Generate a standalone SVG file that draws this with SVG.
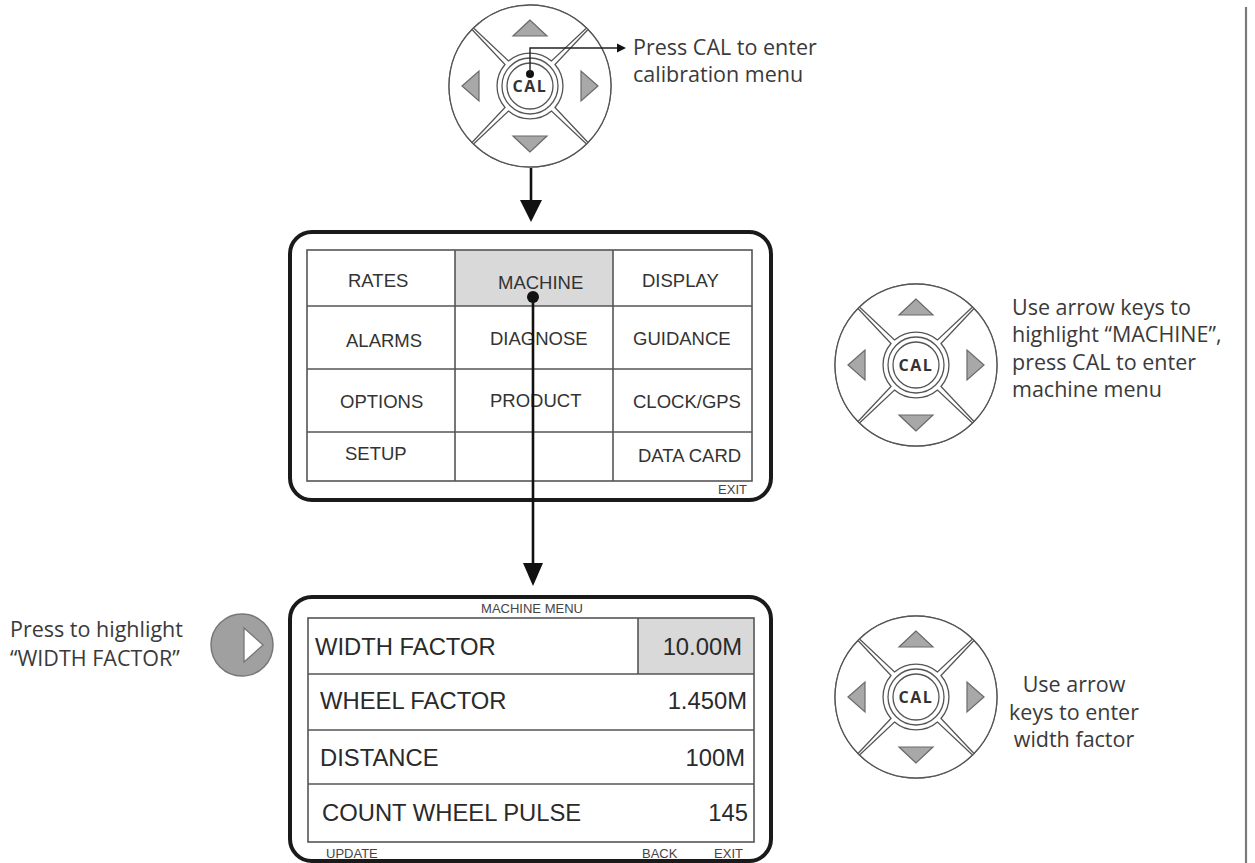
<svg xmlns="http://www.w3.org/2000/svg" width="1255" height="863" viewBox="0 0 1255 863">
<style>
.pet{fill:#fff;stroke:#555;stroke-width:1.3}
.tri{fill:#a8a8a8;stroke:#6a6a6a;stroke-width:1.2}
.cal{font-family:"Open Sans","DejaVu Sans",sans-serif;font-weight:bold;font-size:16px;fill:#333;letter-spacing:1.5px}
.note{font-family:"Open Sans","Noto Sans",sans-serif;font-size:21.5px;fill:#3a3a3a}
.scr{fill:#fff;stroke:#1a1a1a;stroke-width:4}
.grid{fill:none;stroke:#555;stroke-width:1.6}
.m1{font-family:"Liberation Sans",Arial,sans-serif;font-size:18.5px;fill:#333}
.m2{font-family:"Liberation Sans",Arial,sans-serif;font-size:23.8px;fill:#2a2a2a}
.sm{font-family:"Liberation Sans",Arial,sans-serif;font-size:13px;fill:#444}
.hl{fill:#d9d9d9}
.wire{fill:none;stroke:#111;stroke-width:2.6}
</style>
<defs>
<g id="keypad">
<circle r="81" class="pet"/>
<path id="petal" class="pet" d="M-56.5,-58 A81,81 0 0 1 56.5,-58 L21.5,-25 A33,33 0 0 0 -21.5,-25 Z"/>
<use href="#petal" transform="rotate(90)"/>
<use href="#petal" transform="rotate(180)"/>
<use href="#petal" transform="rotate(270)"/>
<circle r="28" class="pet"/>
<circle r="23" class="pet"/>
<polygon class="tri" points="0,-66 -17,-50 17,-50"/>
<polygon class="tri" points="0,66 -17,50 17,50"/>
<polygon class="tri" points="-68,0 -51,-15 -51,15"/>
<polygon class="tri" points="68,0 51,-15 51,15"/>
<text class="cal" x="0" y="6" text-anchor="middle">CAL</text>
</g>
</defs>
<rect width="1255" height="863" fill="#fff"/>
<line x1="1246" y1="7" x2="1246" y2="863" stroke="#7a7a7a" stroke-width="2.2"/>

<g id="keypad-top">
<use href="#keypad" transform="translate(530,86)"/>
<text class="note" x="633" y="55">Press CAL to enter</text>
<text class="note" x="633" y="82">calibration menu</text>
</g>

<g id="keypad-machine">
<use href="#keypad" transform="translate(916,365)"/>
<text class="note" x="1012" y="315">Use arrow keys to</text>
<text class="note" x="1012" y="342">highlight “MACHINE”,</text>
<text class="note" x="1012" y="370">press CAL to enter</text>
<text class="note" x="1012" y="397">machine menu</text>
</g>

<g id="keypad-width">
<use href="#keypad" transform="translate(916,697)"/>
<text class="note" x="1074" y="692" text-anchor="middle">Use arrow</text>
<text class="note" x="1074" y="720" text-anchor="middle">keys to enter</text>
<text class="note" x="1074" y="747" text-anchor="middle">width factor</text>
</g>

<g id="right-button">
<circle cx="242" cy="645" r="31" fill="#a0a0a0" stroke="#777" stroke-width="1.5"/>
<polygon points="244,628 244,662 263,645" fill="#fff" stroke="#777" stroke-width="1.3"/>
<text class="note" x="10" y="637">Press to highlight</text>
<text class="note" x="10" y="666">“WIDTH FACTOR”</text>
</g>

<g id="calibration-menu">
<rect class="scr" x="290" y="232" width="481" height="268" rx="22"/>
<rect class="hl" x="455" y="250" width="158" height="56"/>
<rect class="grid" x="307" y="250" width="445" height="231"/>
<line class="grid" x1="307" y1="306" x2="752" y2="306"/>
<line class="grid" x1="307" y1="369" x2="752" y2="369"/>
<line class="grid" x1="307" y1="432" x2="752" y2="432"/>
<line class="grid" x1="455" y1="250" x2="455" y2="481"/>
<line class="grid" x1="613" y1="250" x2="613" y2="481"/>
<text class="m1" x="348" y="287">RATES</text>
<text class="m1" x="498" y="289">MACHINE</text>
<text class="m1" x="642" y="287">DISPLAY</text>
<text class="m1" x="346" y="347">ALARMS</text>
<text class="m1" x="490" y="345">DIAGNOSE</text>
<text class="m1" x="633" y="345">GUIDANCE</text>
<text class="m1" x="340" y="408">OPTIONS</text>
<text class="m1" x="490" y="407">PRODUCT</text>
<text class="m1" x="633" y="408">CLOCK/GPS</text>
<text class="m1" x="345" y="460">SETUP</text>
<text class="m1" x="638" y="462">DATA CARD</text>
<text class="sm" x="747" y="494" text-anchor="end">EXIT</text>
</g>

<g id="machine-menu">
<rect class="scr" x="290" y="597" width="481" height="264" rx="22"/>
<rect class="hl" x="638" y="618" width="116" height="56"/>
<rect class="grid" x="308" y="618" width="446" height="224"/>
<line class="grid" x1="308" y1="674" x2="754" y2="674"/>
<line class="grid" x1="308" y1="730" x2="754" y2="730"/>
<line class="grid" x1="308" y1="784" x2="754" y2="784"/>
<line class="grid" x1="638" y1="618" x2="638" y2="674"/>
<text class="sm" x="532" y="613" text-anchor="middle">MACHINE MENU</text>
<text class="m2" x="315" y="655">WIDTH FACTOR</text>
<text class="m2" x="742" y="655" text-anchor="end">10.00M</text>
<text class="m2" x="320" y="709">WHEEL FACTOR</text>
<text class="m2" x="747" y="709" text-anchor="end">1.450M</text>
<text class="m2" x="320" y="766">DISTANCE</text>
<text class="m2" x="745" y="766" text-anchor="end">100M</text>
<text class="m2" x="322" y="821">COUNT WHEEL PULSE</text>
<text class="m2" x="748" y="821" text-anchor="end">145</text>
<text class="sm" x="326" y="858">UPDATE</text>
<text class="sm" x="642" y="858">BACK</text>
<text class="sm" x="743" y="858" text-anchor="end">EXIT</text>
</g>

<g id="connectors">
<circle cx="530" cy="74" r="4" fill="#111"/>
<polyline points="530,74 530,48 617,48" fill="none" stroke="#222" stroke-width="1.4"/>
<polygon points="617,43.5 626,48 617,52.5" fill="#111"/>
<line class="wire" x1="531" y1="168" x2="531" y2="202"/>
<polygon points="520,200 542,200 531,222" fill="#111"/>
<circle cx="533" cy="297" r="6" fill="#111"/>
<line class="wire" x1="533" y1="297" x2="533" y2="565"/>
<polygon points="523,563 543,563 533,586" fill="#111"/>
</g>
</svg>
